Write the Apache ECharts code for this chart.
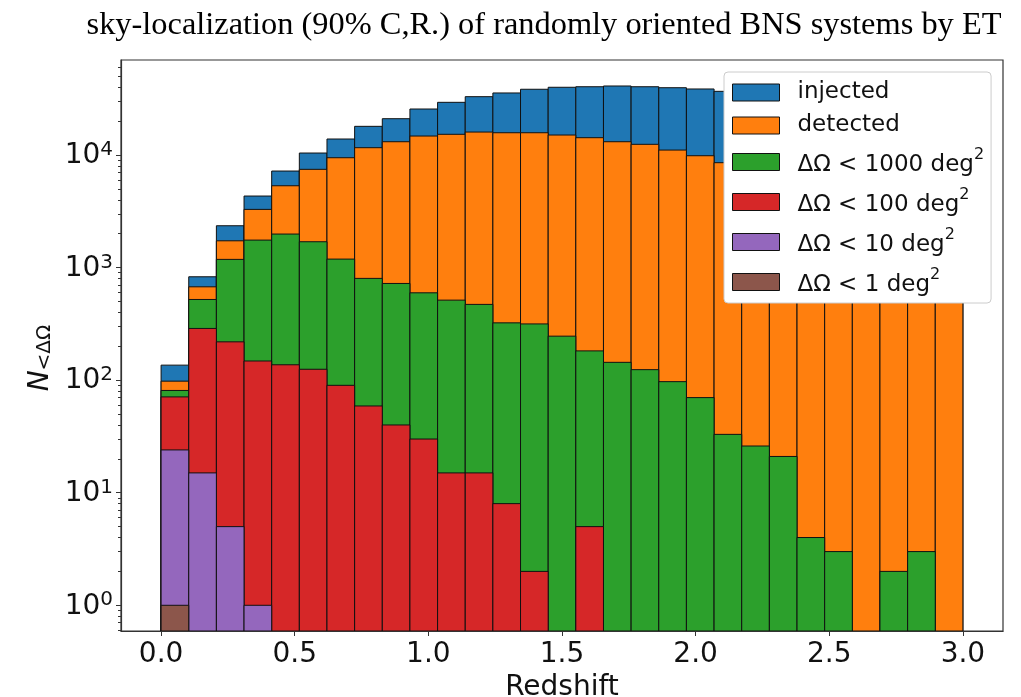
<!DOCTYPE html>
<html>
<head>
<meta charset="utf-8">
<title>sky-localization of BNS systems by ET</title>
<script src="https://cdn.jsdelivr.net/npm/echarts@6/dist/echarts.min.js"></script>
<style>
  html, body { margin: 0; padding: 0; background: #fff; }
  #chart { width: 1021px; height: 697px; }
</style>
</head>
<body>
<div id="chart"></div>
<script>
// Redshift binning: 29 equal bins between 0 and 3
const zMin = 0;
const zMax = 3;
const nBins = 29;
const binEdges = Array.from({ length: nBins + 1 }, (_, i) => zMin + (zMax - zMin) * i / nBins);

// Counts per redshift bin
const injected = [136, 829, 2354, 4323, 7208, 10420, 13880, 17990, 21030, 25640, 29400, 33000, 35600, 38400, 40000,
                  40450, 41050, 40450, 39640, 38620, 36800, 34500, 32000, 29500, 27000, 24500, 22000, 19800, 17700];
const detected = [98, 675, 1730, 3290, 5334, 7465, 9465, 11620, 13130, 14750, 15280, 16000, 15780, 15780, 15060,
                  14260, 13130, 12450, 11070, 9860, 8550, 7300, 6200, 5200, 4300, 3500, 2800, 2200, 1700];
const lt1000 = [81, 521, 1183, 1755, 1986, 1697, 1190, 802, 723, 597, 514, 471, 323, 316, 246,
                182, 144, 124, 97, 70, 33, 26, 21, 4, 3, 0, 2, 3, 0];
const lt100 = [71, 288, 219, 148, 137, 125, 90, 59, 40, 30, 15, 15, 8, 2, 0,
               5, 0, 0, 0, 0, 0, 0, 0, 0, 0, 0, 0, 0, 0];
const lt10 = [24, 15, 5, 1, 0, 0, 0, 0, 0, 0, 0, 0, 0, 0, 0,
              0, 0, 0, 0, 0, 0, 0, 0, 0, 0, 0, 0, 0, 0];
const lt1 = [1, 0, 0, 0, 0, 0, 0, 0, 0, 0, 0, 0, 0, 0, 0,
             0, 0, 0, 0, 0, 0, 0, 0, 0, 0, 0, 0, 0, 0];

// Axis ticks
const xTicks = [0, 0.5, 1.0, 1.5, 2.0, 2.5, 3.0];
const yTicks = [1, 10, 100, 1000, 10000];
const yMinorTicks = [];
[-1, 0, 1, 2, 3, 4].forEach(e => { for (let k = 2; k <= 9; k++) yMinorTicks.push(k * Math.pow(10, e)); });

const X_MIN = -0.15, X_MAX = 3.15;
const Y_MIN = 0.591, Y_MAX = 69870;

const seriesDefs = [
  { name: 'injected',          label: '{t|injected}',                 values: injected, color: '#1f77b4' },
  { name: 'detected',          label: '{t|detected}',                 values: detected, color: '#ff7f0e' },
  { name: 'ΔΩ < 1000 deg2',    label: '{m|ΔΩ < 1000 deg}{s|2}',       values: lt1000,   color: '#2ca02c' },
  { name: 'ΔΩ < 100 deg2',     label: '{m|ΔΩ < 100 deg}{s|2}',        values: lt100,    color: '#d62728' },
  { name: 'ΔΩ < 10 deg2',      label: '{m|ΔΩ < 10 deg}{s|2}',         values: lt10,     color: '#9467bd' },
  { name: 'ΔΩ < 1 deg2',       label: '{m|ΔΩ < 1 deg}{s|2}',          values: lt1,      color: '#8c564b' }
];

function histSeries(def) {
  return {
    type: 'custom',
    name: def.name,
    clip: true,
    itemStyle: { color: def.color, borderColor: '#000', borderWidth: 1 },
    encode: { x: [0, 1], y: 2 },
    data: def.values.map((v, i) => [binEdges[i], binEdges[i + 1], v]).filter(d => d[2] > 0),
    renderItem(params, api) {
      const topLeft = api.coord([api.value(0), api.value(2)]);
      const bottomRight = api.coord([api.value(1), Y_MIN]);
      return {
        type: 'rect',
        shape: { x: topLeft[0], y: topLeft[1], width: bottomRight[0] - topLeft[0], height: bottomRight[1] - topLeft[1] },
        style: { fill: def.color, stroke: '#111', lineWidth: 1 }
      };
    }
  };
}

const labelMap = {};
seriesDefs.forEach(d => { labelMap[d.name] = d.label; });

const chart = echarts.init(document.getElementById('chart'), null, { renderer: 'canvas' });

chart.setOption({
  animation: false,
  backgroundColor: '#fff',
  title: {
    text: 'sky-localization (90% C,R.) of randomly oriented BNS systems by ET',
    left: 539,
    top: 4,
    textAlign: 'center',
    textStyle: { fontFamily: 'Liberation Serif', fontSize: 32.4, fontWeight: 'normal', color: '#000' }
  },
  grid: {
    left: 121, right: 18, top: 60, bottom: 66,
    show: true, borderColor: '#333', borderWidth: 1.2, backgroundColor: 'transparent',
    outerBoundsMode: 'none'
  },
  legend: {
    left: 724, top: 72,
    orient: 'vertical',
    itemWidth: 47, itemHeight: 17,
    itemGap: 10,
    padding: [9, 7, 6, 8],
    backgroundColor: '#fff',
    borderColor: '#ccc', borderWidth: 1, borderRadius: 4,
    selectedMode: false,
    data: seriesDefs.map(d => ({
      name: d.name, icon: 'rect',
      itemStyle: { color: d.color, borderColor: '#111', borderWidth: 1 }
    })),
    formatter: name => labelMap[name],
    textStyle: {
      padding: [0, 0, 0, 13],
      rich: {
        t: { fontFamily: 'DejaVu Sans', fontSize: 23, color: '#111', lineHeight: 24 },
        m: { fontFamily: 'DejaVu Sans', fontSize: 23, color: '#111', lineHeight: 30, verticalAlign: 'bottom' },
        s: { fontFamily: 'DejaVu Sans', fontSize: 16, color: '#111', lineHeight: 12, verticalAlign: 'top' }
      }
    }
  },
  xAxis: {
    type: 'value',
    min: X_MIN, max: X_MAX,
    splitLine: { show: false },
    axisLine: { show: true, onZero: false, lineStyle: { color: '#333', width: 1.2 } },
    axisTick: { show: true, length: 5, inside: false, customValues: xTicks, lineStyle: { color: '#333', width: 1 } },
    axisLabel: {
      customValues: xTicks, margin: 10,
      formatter: v => v.toFixed(1),
      fontFamily: 'DejaVu Sans', fontSize: 28, color: '#111'
    },
    name: 'Redshift', nameLocation: 'middle', nameGap: 37,
    nameTextStyle: { fontFamily: 'DejaVu Sans', fontSize: 28, color: '#111' }
  },
  yAxis: [
    {
      type: 'log', logBase: 10,
      min: Y_MIN, max: Y_MAX,
      position: 'left',
      splitLine: { show: false },
      axisLine: { show: true, onZero: false, lineStyle: { color: '#333', width: 1.2 } },
      axisTick: { show: true, length: 5, inside: false, customValues: yTicks, lineStyle: { color: '#333', width: 1 } },
      axisLabel: {
        customValues: yTicks, margin: 8,
        formatter: v => '{b|10}{s|' + Math.round(Math.log10(v)) + '}',
        rich: {
          b: { fontFamily: 'DejaVu Sans', fontSize: 28, color: '#111', lineHeight: 30, verticalAlign: 'bottom' },
          s: { fontFamily: 'DejaVu Sans', fontSize: 20, color: '#111', lineHeight: 14, verticalAlign: 'top' }
        }
      }
    },
    {
      type: 'log', logBase: 10,
      min: Y_MIN, max: Y_MAX,
      position: 'left',
      splitLine: { show: false },
      axisLine: { show: false, onZero: false },
      axisLabel: { show: false },
      axisTick: { show: true, length: 3, inside: false, customValues: yMinorTicks, lineStyle: { color: '#333', width: 1 } }
    }
  ],
  graphic: [
    {
      type: 'text',
      x: 40, y: 358,
      rotation: Math.PI / 2,
      style: {
        text: '{n|N}{s|<ΔΩ}',
        align: 'center', verticalAlign: 'middle',
        rich: {
          n: { fontFamily: 'DejaVu Sans', fontStyle: 'italic', fontSize: 28, fill: '#111', lineHeight: 30, verticalAlign: 'bottom' },
          s: { fontFamily: 'DejaVu Sans', fontSize: 20, fill: '#111', lineHeight: 14, verticalAlign: 'bottom' }
        }
      }
    }
  ],
  series: seriesDefs.map(histSeries)
});
</script>
</body>
</html>
